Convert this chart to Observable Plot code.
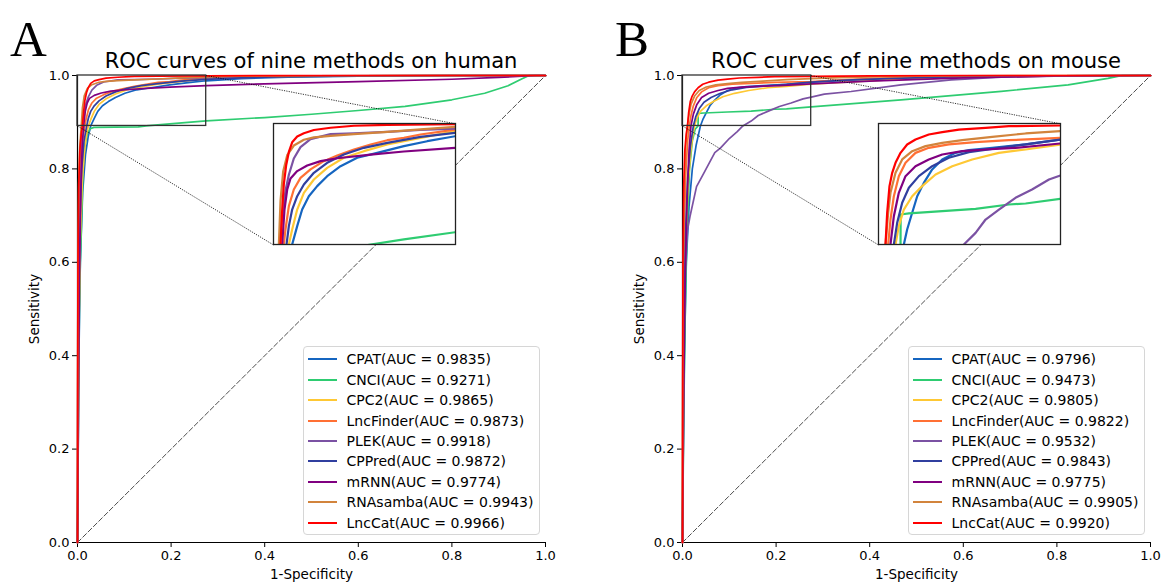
<!DOCTYPE html>
<html><head><meta charset="utf-8">
<script src="https://cdn.jsdelivr.net/npm/d3@7"></script>
<script src="https://cdn.jsdelivr.net/npm/@observablehq/plot@0.6"></script>
<style>
body{margin:0;background:#fff;}
#root{position:relative;width:1163px;height:583px;overflow:hidden;font-family:"DejaVu Sans",sans-serif;color:#000;}
.panel{position:absolute;top:0;width:570px;height:583px;}
.panel svg{position:absolute;left:0;top:0;}
.panel svg g[aria-label="x-axis label"], .panel svg g[aria-label="y-axis label"],
.panel svg g[aria-label="x-axis label"] text, .panel svg g[aria-label="y-axis label"] text{font-size:13.5px;}
.panel svg g[aria-label="x-axis tick label"] text, .panel svg g[aria-label="y-axis tick label"] text{font-size:13px;}
.letter{position:absolute;left:10px;top:14px;font-family:"Liberation Serif",serif;font-size:51px;line-height:1;}
.title{position:absolute;top:51px;font-size:21px;line-height:1;white-space:nowrap;transform:translateX(-50%);}
.legend{position:absolute;box-sizing:border-box;border:1px solid #d6d6d6;border-radius:4px;background:#fff;}
.legend .row{position:absolute;left:0;height:20px;font-size:14px;line-height:20px;white-space:nowrap;}
.legend .row span{position:absolute;left:43px;top:0;}
.legend .row i{position:absolute;left:4px;top:9px;width:29px;height:0;border-top:2px solid;}
</style></head>
<body><div id="root"></div>
<script>
const methods = ["CPAT","CNCI","CPC2","LncFinder","PLEK","CPPred","mRNN","RNAsamba","LncCat"];
const colors  = ["#1565c0","#2ecc71","#fec834","#ff7034","#7b52a3","#303f9f","#800080","#d2843c","#ff0000"];
const aucHuman = ["0.9835","0.9271","0.9865","0.9873","0.9918","0.9872","0.9774","0.9943","0.9966"];
const aucMouse = ["0.9796","0.9473","0.9805","0.9822","0.9532","0.9843","0.9775","0.9905","0.9920"];
const ticks = [0,0.2,0.4,0.6,0.8,1.0];
const zoomBox = {x1:0, x2:0.275, y1:0.892, y2:1.0};
const insetBox = {x1:0.419, x2:0.808, y1:0.637, y2:0.8965};
const refDiagonal = [[0,0],[1,1]];

// ---- human ROC points [fpr, tpr]
const humanCPAT = [[0,0],[0.001,0.15],[0.003,0.4],[0.006,0.6],[0.011,0.75],[0.017,0.83],[0.023,0.87],[0.0282,0.892],[0.0358,0.9084],[0.0433,0.9232],[0.0534,0.9351],[0.066,0.9441],[0.0811,0.953],[0.1013,0.9619],[0.1265,0.9694],[0.1567,0.9738],[0.197,0.9798],[0.2323,0.9842],[0.275,0.9887],[0.35,0.9935],[0.45,0.9965],[0.6,0.9985],[0.8,0.9996],[1,1]];
const humanCNCI = [[0,0],[0.002,0.3],[0.004,0.5],[0.006,0.6],[0.009,0.7],[0.012,0.8],[0.016,0.85],[0.021,0.875],[0.027,0.886],[0.035,0.889],[0.08,0.8895],[0.13,0.890],[0.1467,0.892],[0.197,0.8965],[0.275,0.903],[0.4,0.91],[0.5,0.917],[0.6,0.925],[0.7,0.934],[0.8,0.948],[0.87,0.962],[0.92,0.978],[0.95,0.993],[0.965,1],[1,1]];
const humanCPC2 = [[0,0],[0.001,0.2],[0.003,0.45],[0.006,0.65],[0.01,0.77],[0.015,0.84],[0.019,0.872],[0.0232,0.892],[0.0282,0.9054],[0.0358,0.9232],[0.0459,0.9381],[0.061,0.95],[0.0811,0.9604],[0.1063,0.9694],[0.1366,0.9753],[0.1719,0.9813],[0.2223,0.9872],[0.275,0.9932],[0.35,0.996],[0.45,0.998],[0.6,0.9993],[0.8,1],[1,1]];
const humanLncFinder = [[0,0],[0.0005,0.2],[0.002,0.5],[0.004,0.7],[0.007,0.8],[0.011,0.86],[0.0156,0.892],[0.0181,0.9054],[0.0232,0.9262],[0.0307,0.9411],[0.0408,0.9515],[0.0559,0.959],[0.076,0.9664],[0.0963,0.9714],[0.1215,0.9768],[0.1467,0.9813],[0.172,0.9851],[0.197,0.9872],[0.222,0.9902],[0.275,0.9946],[0.35,0.997],[0.45,0.9985],[0.6,0.9995],[0.8,1],[1,1]];
const humanPLEK = [[0,0],[0.0004,0.25],[0.0015,0.55],[0.003,0.72],[0.006,0.84],[0.0096,0.892],[0.0131,0.9168],[0.0181,0.9399],[0.0232,0.9543],[0.0307,0.9688],[0.0408,0.9789],[0.0559,0.9861],[0.0862,0.9905],[0.1215,0.9913],[0.172,0.9925],[0.222,0.9942],[0.275,0.9954],[0.35,0.997],[0.5,0.999],[0.7,1],[1,1]];
const humanCPPred = [[0,0],[0.0008,0.2],[0.002,0.45],[0.005,0.68],[0.009,0.8],[0.014,0.86],[0.0197,0.892],[0.0232,0.9084],[0.0282,0.9232],[0.0358,0.9351],[0.0459,0.9456],[0.061,0.956],[0.0811,0.9649],[0.1063,0.9723],[0.1366,0.9783],[0.1719,0.9827],[0.2223,0.9881],[0.275,0.9917],[0.35,0.995],[0.45,0.9975],[0.6,0.999],[0.8,1],[1,1]];
const humanmRNN = [[0,0],[0.001,0.1],[0.002,0.3],[0.004,0.55],[0.007,0.75],[0.01,0.85],[0.0131,0.892],[0.0166,0.9232],[0.0207,0.9411],[0.0257,0.951],[0.0358,0.9575],[0.0509,0.9625],[0.0711,0.9664],[0.0963,0.969],[0.1467,0.9723],[0.197,0.975],[0.275,0.9783],[0.4,0.982],[0.6,0.987],[0.8,0.992],[0.9,0.996],[0.96,0.999],[0.98,1],[1,1]];
const humanRNAsamba = [[0,0],[0.0003,0.3],[0.001,0.6],[0.0025,0.77],[0.005,0.85],[0.0081,0.892],[0.0106,0.9312],[0.0146,0.9572],[0.0207,0.9717],[0.0307,0.9803],[0.0459,0.9855],[0.061,0.9876],[0.0862,0.989],[0.1215,0.9905],[0.172,0.9925],[0.222,0.9948],[0.275,0.9971],[0.35,0.9985],[0.5,0.9995],[0.7,1],[1,1]];
const humanLncCat = [[0,0],[0.0003,0.35],[0.001,0.6],[0.0025,0.76],[0.005,0.84],[0.008,0.875],[0.0106,0.892],[0.0131,0.9225],[0.0156,0.9457],[0.0192,0.963],[0.0232,0.9746],[0.0282,0.9832],[0.0358,0.9884],[0.0459,0.9913],[0.061,0.9942],[0.0862,0.9962],[0.1215,0.998],[0.172,0.9988],[0.275,0.9994],[0.4,0.9998],[0.6,1],[1,1]];

// ---- mouse ROC points [fpr, tpr]
const mouseCPAT = [[0,0],[0.001,0.15],[0.004,0.4],[0.008,0.6],[0.014,0.72],[0.021,0.8],[0.029,0.85],[0.0383,0.892],[0.0433,0.9054],[0.0509,0.9203],[0.0585,0.9351],[0.0685,0.947],[0.0811,0.959],[0.0963,0.9679],[0.1164,0.9738],[0.1366,0.9762],[0.1719,0.9783],[0.2223,0.9813],[0.275,0.9857],[0.35,0.99],[0.45,0.994],[0.6,0.9975],[0.8,0.9995],[1,1]];
const mouseCNCI = [[0,0],[0.003,0.3],[0.006,0.5],[0.01,0.68],[0.015,0.8],[0.021,0.86],[0.027,0.885],[0.0333,0.892],[0.0335,0.9188],[0.0459,0.9197],[0.0963,0.9218],[0.1467,0.9238],[0.197,0.9277],[0.2223,0.9286],[0.275,0.9328],[0.467,0.948],[0.681,0.966],[0.824,0.98],[0.909,0.994],[0.94,1],[1,1]];
const mouseCPC2 = [[0,0],[0.001,0.2],[0.003,0.45],[0.007,0.65],[0.012,0.77],[0.018,0.84],[0.022,0.872],[0.0257,0.892],[0.0307,0.9084],[0.0383,0.9232],[0.0509,0.9351],[0.066,0.9441],[0.0862,0.9545],[0.1114,0.9619],[0.1416,0.9679],[0.1819,0.9738],[0.2223,0.9768],[0.275,0.9813],[0.35,0.986],[0.45,0.991],[0.6,0.996],[0.8,0.999],[1,1]];
const mouseLncFinder = [[0,0],[0.0005,0.25],[0.002,0.5],[0.004,0.68],[0.007,0.79],[0.011,0.86],[0.0146,0.892],[0.0181,0.9143],[0.0232,0.9351],[0.0307,0.953],[0.0408,0.9649],[0.0559,0.9738],[0.076,0.9783],[0.1063,0.9813],[0.1467,0.9833],[0.197,0.9851],[0.275,0.9872],[0.35,0.991],[0.45,0.995],[0.6,0.998],[0.8,0.9995],[1,1]];
const mousePLEK = [[0,0],[0.001,0.2],[0.002,0.35],[0.004,0.5],[0.007,0.6],[0.0107,0.669],[0.016,0.698],[0.03,0.762],[0.0456,0.791],[0.069,0.835],[0.0814,0.845],[0.1,0.865],[0.117,0.88],[0.129,0.892],[0.1467,0.9024],[0.1618,0.9143],[0.182,0.9232],[0.207,0.9337],[0.232,0.9411],[0.2576,0.95],[0.275,0.9536],[0.303,0.96],[0.36,0.9657],[0.467,0.98],[0.574,0.9908],[0.681,0.9965],[0.822,0.999],[1,1]];
const mouseCPPred = [[0,0],[0.0008,0.2],[0.0025,0.45],[0.006,0.65],[0.011,0.78],[0.017,0.85],[0.0232,0.892],[0.0282,0.9113],[0.0358,0.9292],[0.0459,0.9426],[0.061,0.953],[0.0811,0.9619],[0.1063,0.9694],[0.1366,0.9744],[0.1719,0.9774],[0.2223,0.9813],[0.275,0.9857],[0.35,0.99],[0.45,0.994],[0.6,0.9975],[0.8,0.9995],[1,1]];
const mousemRNN = [[0,0],[0.001,0.12],[0.003,0.35],[0.006,0.58],[0.01,0.74],[0.014,0.84],[0.0181,0.892],[0.0232,0.9173],[0.0307,0.9381],[0.0408,0.953],[0.0559,0.9619],[0.076,0.9679],[0.0963,0.9723],[0.1265,0.9753],[0.1618,0.9768],[0.2072,0.9783],[0.275,0.9822],[0.4,0.988],[0.6,0.995],[0.8,0.999],[1,1]];
const mouseRNAsamba = [[0,0],[0.0004,0.3],[0.0015,0.58],[0.004,0.76],[0.007,0.85],[0.0106,0.892],[0.0146,0.9203],[0.0181,0.9381],[0.0257,0.956],[0.0358,0.9679],[0.0509,0.9753],[0.0711,0.9798],[0.0963,0.9827],[0.1265,0.9851],[0.1719,0.9881],[0.2223,0.9911],[0.275,0.9932],[0.35,0.996],[0.5,0.9985],[0.7,1],[1,1]];
const mouseLncCat = [[0,0],[0.0003,0.35],[0.001,0.6],[0.0025,0.76],[0.005,0.84],[0.008,0.875],[0.0106,0.892],[0.0131,0.9203],[0.0166,0.9441],[0.0207,0.956],[0.0257,0.9649],[0.0333,0.9738],[0.0433,0.9813],[0.0559,0.9857],[0.076,0.9902],[0.0963,0.9923],[0.1215,0.9946],[0.1618,0.9961],[0.197,0.9976],[0.275,0.9982],[0.4,0.9993],[0.6,1],[1,1]];

const humanSeries = [humanCPAT,humanCNCI,humanCPC2,humanLncFinder,humanPLEK,humanCPPred,humanmRNN,humanRNAsamba,humanLncCat];
const mouseSeries = [mouseCPAT,mouseCNCI,mouseCPC2,mouseLncFinder,mousePLEK,mouseCPPred,mousemRNN,mouseRNAsamba,mouseLncCat];

function toRows(series){
  return methods.flatMap((m,i)=>series[i].map(([fpr,tpr])=>({method:m,fpr,tpr})));
}

function panel(left, letter, title, series, aucs){
  const root = document.getElementById("root");
  const div = document.createElement("div");
  div.className = "panel"; div.style.left = left + "px";
  root.appendChild(div);
  const rows = toRows(series);
  const connectors = [
    {x1:zoomBox.x2, y1:zoomBox.y2, x2:insetBox.x2, y2:insetBox.y2},
    {x1:zoomBox.x1, y1:zoomBox.y1, x2:insetBox.x1, y2:insetBox.y1}
  ];
  const main = Plot.plot({
    width:560, height:583, marginLeft:77, marginRight:15, marginTop:75, marginBottom:41,
    style:{fontFamily:"DejaVu Sans", fontSize:"13px", color:"#000", background:"transparent", overflow:"visible"},
    x:{domain:[0,1], ticks:ticks, tickFormat:".1f", tickSize:5, tickPadding:3, label:"1-Specificity", labelArrow:"none", labelAnchor:"center", labelOffset:36},
    y:{domain:[0,1], ticks:ticks, tickFormat:".1f", tickSize:5, tickPadding:3, label:"Sensitivity", labelArrow:"none", labelAnchor:"center", labelOffset:48},
    color:{domain:methods, range:colors},
    marks:[
      Plot.line(refDiagonal, {x:d=>d[0], y:d=>d[1], stroke:"#000", strokeWidth:0.7, strokeDasharray:"5,2.5"}),
      Plot.ruleX([0], {stroke:"#000", strokeWidth:1.2}),
      Plot.ruleY([0], {stroke:"#000", strokeWidth:1.2}),
      Plot.line(rows, {x:"fpr", y:"tpr", z:"method", stroke:"method", strokeWidth:1.7}),
      Plot.rect([zoomBox], {x1:"x1", x2:"x2", y1:"y1", y2:"y2", fill:"none", stroke:"#333", strokeWidth:1.3}),
      Plot.link(connectors, {x1:"x1", y1:"y1", x2:"x2", y2:"y2", stroke:"#000", strokeWidth:0.8, strokeDasharray:"1.2,1.2"})
    ]
  });
  div.appendChild(main);
  const sx = main.scale("x"), sy = main.scale("y");
  const il = sx.apply(insetBox.x1), ir = sx.apply(insetBox.x2);
  const it = sy.apply(insetBox.y2), ib = sy.apply(insetBox.y1);
  const inset = Plot.plot({
    width: Math.round(ir-il), height: Math.round(ib-it),
    margin:0, marginLeft:0, marginRight:0, marginTop:0, marginBottom:0,
    style:{background:"#fff", overflow:"visible"},
    x:{domain:[zoomBox.x1, zoomBox.x2], axis:null},
    y:{domain:[zoomBox.y1, zoomBox.y2], axis:null},
    color:{domain:methods, range:colors},
    marks:[
      Plot.line(rows, {x:"fpr", y:"tpr", z:"method", stroke:"method", strokeWidth:2.2, clip:true}),
      Plot.frame({stroke:"#222", strokeWidth:1.3})
    ]
  });
  inset.style.left = Math.round(il) + "px";
  inset.style.top = Math.round(it) + "px";
  div.appendChild(inset);

  const L = document.createElement("div"); L.className = "letter"; L.textContent = letter; div.appendChild(L);
  const T = document.createElement("div"); T.className = "title"; T.textContent = title;
  T.style.left = ((sx.apply(0)+sx.apply(1))/2) + "px"; div.appendChild(T);

  const leg = document.createElement("div"); leg.className = "legend";
  leg.style.left = (sx.apply(0.482)) + "px"; leg.style.top = "346px";
  leg.style.width = "237px"; leg.style.height = "189px";
  methods.forEach((m,i)=>{
    const r = document.createElement("div"); r.className = "row";
    r.style.top = (2.3 + i*20.4) + "px";
    const ln = document.createElement("i"); ln.style.borderTopColor = colors[i];
    const tx = document.createElement("span"); tx.textContent = `${m}(AUC = ${aucs[i]})`;
    r.appendChild(ln); r.appendChild(tx); leg.appendChild(r);
  });
  div.appendChild(leg);
}

panel(0, "A", "ROC curves of nine methods on human", humanSeries, aucHuman);
panel(605, "B", "ROC curves of nine methods on mouse", mouseSeries, aucMouse);
</script>
</body></html>
